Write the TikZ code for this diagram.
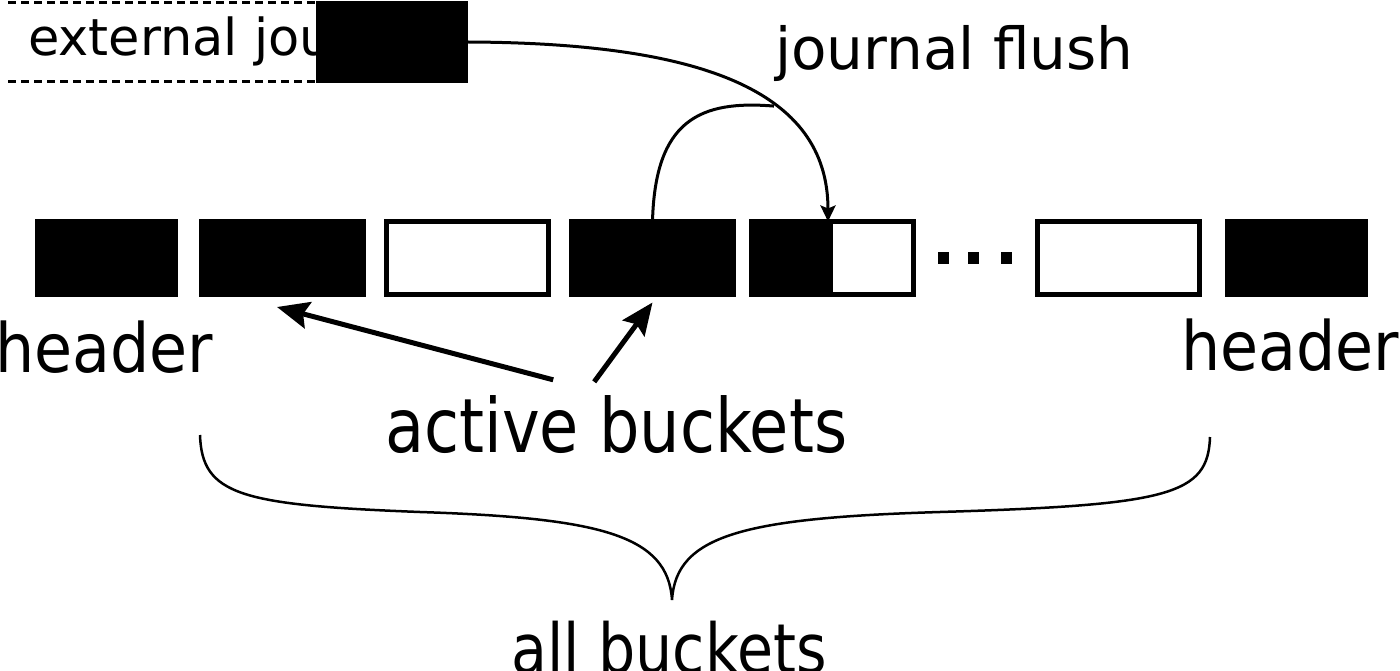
\documentclass[tikz,border=0pt]{standalone}
\usepackage{fontspec}
\setmainfont{DejaVu Sans}
\newfontfamily\condsans[FakeStretch=0.85]{DejaVu Sans}
\newfontfamily\hdrsans[FakeStretch=0.91]{DejaVu Sans}
\usepackage{tikz}
\usetikzlibrary{arrows.meta}

\begin{document}
\begin{tikzpicture}[x=1pt, y=-1pt,
    bucket/.style={draw, line width=5pt, inner sep=0pt, outer sep=0pt, minimum width=162pt, minimum height=73pt},
    full/.style={bucket, fill=black},
    hdr/.style={full, minimum width=138pt},
    label/.style={inner sep=0pt, anchor=base west},
    pointer/.style={-{Stealth[length=32pt, width=27pt, inset=5pt]}, line width=5pt},
    flow/.style={line width=3pt}]

    \useasboundingbox (0,0) rectangle (1400,671);

    % External journal
    \draw[line width=3pt, dash pattern=on 8pt off 5pt] (8,3) -- (316,3) (8,82) -- (316,82);
    \node[label, font=\fontsize{51}{60}\selectfont] (ext) at (28,56) {external journal};
    \node[fill=black, inner sep=0pt, outer sep=0pt, minimum width=152pt, minimum height=82pt, anchor=north west] (jend) at (316,1) {};
    \node[label, font=\fontsize{58}{70}\selectfont] (flushlbl) at (775,70) {journal flush};

    % Buckets
    \node[hdr] (b1) at (106.5,258) {};
    \node[full] (b2) at (282.5,258) {};
    \node[bucket] (b3) at (467,258) {};
    \node[full] (b4) at (652.5,258) {};
    \node[bucket] (b5) at (832.5,258) {};
    \fill (b5.north west) rectangle (b5.south);
    \foreach \x in {943.5,973.5,1006.5}
        \fill (\x-5.5,252) rectangle ++(11,12);
    \node[bucket] (b6) at (1118.5,258) {};
    \node[hdr] (b7) at (1296,258) {};

    % Journal flush
    \draw[flow, -{Stealth[length=16pt, width=15pt, inset=3pt]}] (jend.east) .. controls (700,43) and (828,90) .. ([xshift=-4.5pt]b5.north) coordinate[pos=0.62] (join);
    \draw[flow] (b4.north) .. controls (655,120) and (700,100) .. (join);

    % Labels
    \node[label, font=\hdrsans\fontsize{68}{80}\selectfont] (hdrL) at (-5,372) {header};
    \node[label, font=\hdrsans\fontsize{68}{80}\selectfont] (hdrR) at (1181,370) {header};
    \node[label, font=\condsans\fontsize{75}{90}\selectfont] (act) at (385,452) {active buckets};
    \draw[pointer] ([shift={(-63,-15)}]act.north) -- ([shift={(-5.5,12.5)}]b2.south);
    \draw[pointer] ([shift={(-22,-13)}]act.north) -- ([shift={(0,8)}]b4.south);

    % All buckets
    \draw[line width=2.5pt] (200,435) .. controls (202,495) and (240,505) .. (420,512)
        .. controls (600,518) and (668,535) .. (672,600)
        .. controls (676,535) and (744,518) .. (940,512)
        .. controls (1170,505) and (1208,495) .. (1210,437);
    \node[label, font=\condsans\fontsize{69}{82}\selectfont] (all) at (511,673) {all buckets};
\end{tikzpicture}
\end{document}
